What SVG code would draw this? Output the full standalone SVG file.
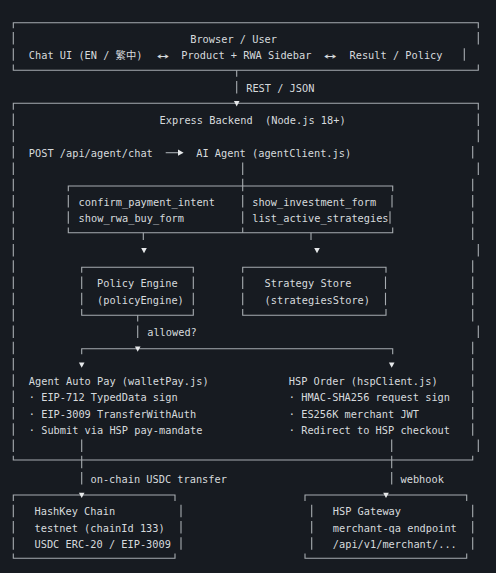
<svg xmlns="http://www.w3.org/2000/svg" xmlns:xlink="http://www.w3.org/1999/xlink" width="496" height="573" viewBox="0 0 496 573">
<style>
.t{font-family:"DejaVu Sans Mono","Liberation Mono","Noto Sans CJK SC",monospace;font-size:10.3px;fill:#d6dadd}
.ar{font-family:"DejaVu Sans Mono","DejaVu Sans",monospace;font-size:12.5px;fill:#d6dadd}
.b{fill:none;stroke:#a7acb1;stroke-width:1.1}
.d{fill:none;stroke:#a7acb1;stroke-width:1.1;stroke-dasharray:12.5 3.8}
.a{fill:#e6e8ea}
</style>
<defs>
<path id="tri" d="M-2.8 -2.5H2.8L0 2.8Z"/>
</defs>
<rect width="496" height="573" fill="#171b21"/>

<g id="browser">
<path class="b" d="M13.3 28.2V22.7H478.3V28.2M13.3 64.6V70.3H478.3V64.6"/>
<line class="d" x1="13.3" y1="32" x2="13.3" y2="60.8"/>
<line class="d" x1="478.3" y1="32" x2="478.3" y2="44.5"/>
<line class="d" x1="464.3" y1="48.3" x2="464.3" y2="60.8"/>
<text class="t" x="190.2" y="42.7">Browser / User</text>
<text class="t" x="28.8" y="59">Chat UI (EN / 繁中)</text>
<text class="ar" x="157" y="59.5" textLength="12" lengthAdjust="spacingAndGlyphs">↔</text>
<text class="t" x="181.2" y="59">Product + RWA Sidebar</text>
<text class="ar" x="324" y="59.5" textLength="12.5" lengthAdjust="spacingAndGlyphs">↔</text>
<text class="t" x="349.5" y="59">Result / Policy</text>
</g>

<g id="express">
<path class="b" d="M13.3 109.7V103.3H478.3V109.7M13.3 455.8V460H472.7V455.8"/>
<line class="d" x1="13.3" y1="113.5" x2="13.3" y2="452"/>
<line class="d" x1="478.3" y1="113.5" x2="478.3" y2="142.3"/>
<line class="d" x1="472.7" y1="146.1" x2="472.7" y2="158.6"/>
<line class="d" x1="478.3" y1="162.4" x2="478.3" y2="174.9"/>
<line class="d" x1="472.7" y1="178.7" x2="472.7" y2="240.1"/>
<line class="d" x1="478.3" y1="243.9" x2="478.3" y2="256.4"/>
<line class="d" x1="472.7" y1="260.2" x2="472.7" y2="321.6"/>
<line class="d" x1="478.3" y1="325.4" x2="478.3" y2="337.9"/>
<line class="d" x1="472.7" y1="341.7" x2="472.7" y2="435.7"/>
<line class="d" x1="478.3" y1="439.5" x2="478.3" y2="452"/>
<text class="t" x="159.6" y="124.2">Express Backend</text>
<text class="t" x="265" y="124.2">(Node.js 18+)</text>
<text class="t" x="28.8" y="156.8">POST /api/agent/chat</text>
</g>

<g id="ai-agent">
<text class="t" x="196.2" y="156.8">AI Agent (agentClient.js)</text>
</g>

<g id="tools">
<path class="b" d="M68.3 191.2V186H392.7V191.2M68.3 227.6V232.7H392.7V227.6"/>
<line class="d" x1="68.3" y1="195" x2="68.3" y2="223.8"/>
<line class="d" x1="392" y1="195" x2="392" y2="207.5"/>
<line class="d" x1="390" y1="211.3" x2="390" y2="223.8"/>
<text class="t" x="78.6" y="205.7">confirm_payment_intent</text>
<text class="t" x="78.6" y="222">show_rwa_buy_form</text>
<text class="t" x="252.2" y="205.7">show_investment_form</text>
<text class="t" x="252.2" y="222">list_active_strategies</text>
</g>

<g id="policy-engine">
<path class="b" d="M81.7 272.7V267.3H193.3V272.7M81.7 309.1V315.3H193.3V309.1"/>
<line class="d" x1="81.7" y1="276.5" x2="81.7" y2="305.3"/>
<line class="d" x1="193.3" y1="276.5" x2="193.3" y2="305.3"/>
<text class="t" x="97" y="287.2">Policy Engine</text>
<text class="t" x="97" y="303.5">(policyEngine)</text>
</g>

<g id="strategy-store">
<path class="b" d="M242.7 272.7V267.3H386V272.7M242.7 309.1V315.3H386V309.1"/>
<line class="d" x1="242.7" y1="276.5" x2="242.7" y2="305.3"/>
<line class="d" x1="385.5" y1="276.5" x2="385.5" y2="305.3"/>
<text class="t" x="264.6" y="287.2">Strategy Store</text>
<text class="t" x="264.6" y="303.5">(strategiesStore)</text>
</g>

<g id="agent-auto-pay">
<text class="t" x="28.8" y="385">Agent Auto Pay (walletPay.js)</text>
<text class="t" x="28.8" y="401.3">· EIP-712 TypedData sign</text>
<text class="t" x="28.8" y="417.6">· EIP-3009 TransferWithAuth</text>
<text class="t" x="28.8" y="433.9">· Submit via HSP pay-mandate</text>
</g>

<g id="hsp-order">
<text class="t" x="288.8" y="385">HSP Order (hspClient.js)</text>
<text class="t" x="288.8" y="401.3">· HMAC-SHA256 request sign</text>
<text class="t" x="288.8" y="417.6">· ES256K merchant JWT</text>
<text class="t" x="288.8" y="433.9">· Redirect to HSP checkout</text>
</g>

<g id="hashkey-chain">
<path class="b" d="M13.3 500.9V495H175V500.9M13.3 553.6V558.3H175V553.6"/>
<line class="d" x1="13.3" y1="504.7" x2="13.3" y2="549.8"/>
<line class="d" x1="181" y1="504.7" x2="181" y2="549.8"/>
<text class="t" x="34.5" y="515.4">HashKey Chain</text>
<text class="t" x="34.5" y="531.7">testnet (chainId 133)</text>
<text class="t" x="34.5" y="548">USDC ERC-20 / EIP-3009</text>
</g>

<g id="hsp-gateway">
<path class="b" d="M305 500.9V495H466.7V500.9M305 553.6V558.3H466.7V553.6"/>
<line class="d" x1="311.7" y1="504.7" x2="311.7" y2="549.8"/>
<line class="d" x1="472.7" y1="504.7" x2="472.7" y2="549.8"/>
<text class="t" x="332.8" y="515.4">HSP Gateway</text>
<text class="t" x="332.8" y="531.7">merchant-qa endpoint</text>
<text class="t" x="332.8" y="548">/api/v1/merchant/...</text>
</g>

<g id="connectors">
<path class="b" d="M236.7 70.3V76.7"/>
<line class="d" x1="236.7" y1="80.9" x2="236.7" y2="93.4"/>
<use href="#tri" class="a" x="236.7" y="103.6"/>
<text class="t" x="246.2" y="91.6">REST / JSON</text>
<path class="b" d="M165.7 152.7H179"/>
<path class="a" d="M178 149.6L183.6 152.7L178 155.8Z"/>
<line class="d" x1="242.7" y1="162.4" x2="242.7" y2="232.7"/>
<path class="b" d="M143.3 232.7V240.1M311 232.7V240.1"/>
<use href="#tri" class="a" x="144" y="250.5"/>
<use href="#tri" class="a" x="317" y="250.5"/>
<path class="b" d="M137.7 315.3V321.6"/>
<line class="d" x1="137.7" y1="325.4" x2="137.7" y2="337.9"/>
<text class="t" x="147.2" y="336.1">allowed?</text>
<path class="b" d="M81.7 354.2V348.7H392.7V354.2"/>
<use href="#tri" class="a" x="137.7" y="349"/>
<use href="#tri" class="a" x="81.7" y="365"/>
<use href="#tri" class="a" x="391.7" y="365"/>
<line class="d" x1="81.7" y1="439.5" x2="81.7" y2="484.6"/>
<use href="#tri" class="a" x="81.7" y="495.3"/>
<text class="t" x="90.5" y="482.8">on-chain USDC transfer</text>
<line class="d" x1="391.7" y1="439.5" x2="391.7" y2="484.6"/>
<use href="#tri" class="a" x="386" y="495.3"/>
<text class="t" x="400.5" y="482.8">webhook</text>
</g>
</svg>
